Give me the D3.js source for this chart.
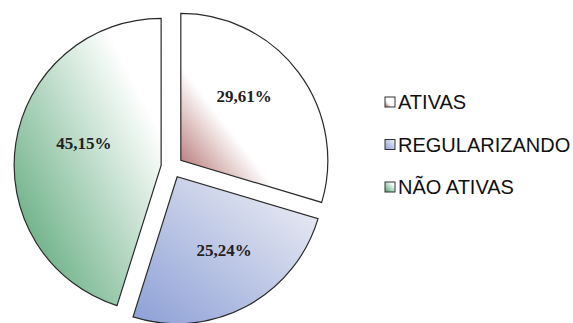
<!DOCTYPE html>
<html>
<head>
<meta charset="utf-8">
<script src="https://cdn.jsdelivr.net/npm/d3@7"></script>
<style>
  html, body { margin: 0; padding: 0; background: #fff; }
  svg { display: block; }
</style>
</head>
<body>
<svg id="chart" width="573" height="323"></svg>
<script>
const categories = ["ATIVAS", "REGULARIZANDO", "NÃO ATIVAS"];
const values = [29.61, 25.24, 45.15];
const labels = ["29,61%", "25,24%", "45,15%"];
const baseColors = ["#a04c4c", "#8c9fd6", "#4c9f6c"];
const whiteStops = [0.36, 1.0, 0.8];

const svg = d3.select("#chart");
const cx = 172, cy = 167, r = 147, explode = 11;
// small label nudges (pixels) to follow the original placement
const labelNudge = [[-5, -13], [7, -2], [7, -9]];

const defs = svg.append("defs");
categories.forEach((c, i) => {
  const g = defs.append("linearGradient")
    .attr("id", "grad" + i)
    .attr("x1", 0).attr("y1", 1).attr("x2", 1).attr("y2", 0);
  g.append("stop").attr("offset", 0).attr("stop-color", baseColors[i]);
  g.append("stop").attr("offset", whiteStops[i]).attr("stop-color", i === 1 ? "#f3f3f6" : "#ffffff");
  g.append("stop").attr("offset", 1).attr("stop-color", i === 1 ? "#f3f3f6" : "#ffffff");
});

const pie = d3.pie().sort(null).value(d => d)(values);
const arc = d3.arc().innerRadius(0).outerRadius(r);
const labelArc = d3.arc().innerRadius(r * 0.58 * 2).outerRadius(0);

const root = svg.append("g").attr("transform", `translate(${cx},${cy})`);

const slices = root.selectAll("g.slice").data(pie).enter().append("g")
  .attr("class", "slice")
  .attr("transform", d => {
    const a = (d.startAngle + d.endAngle) / 2;
    return `translate(${explode * Math.sin(a)},${-explode * Math.cos(a)})`;
  });

slices.append("path")
  .attr("d", arc)
  .attr("fill", (d, i) => `url(#grad${i})`)
  .attr("stroke", "#2a2a2a")
  .attr("stroke-width", 1.2)
  .attr("stroke-linejoin", "miter");

slices.append("text")
  .attr("transform", (d, i) => {
    const p = labelArc.centroid(d);
    return `translate(${p[0] + labelNudge[i][0]},${p[1] + labelNudge[i][1]})`;
  })
  .attr("text-anchor", "middle")
  .attr("dy", "0.35em")
  .attr("font-family", "'Liberation Serif', 'Times New Roman', serif")
  .attr("font-weight", "bold")
  .attr("font-size", 17)
  .attr("fill", "#222")
  .text((d, i) => labels[i]);

// Legend
const legend = svg.append("g").attr("transform", "translate(385,102)");
const lg = legend.selectAll("g").data(categories).enter().append("g")
  .attr("transform", (d, i) => `translate(0,${i * 42.5})`);
lg.append("rect")
  .attr("x", 0).attr("y", -5)
  .attr("width", 10).attr("height", 10)
  .attr("fill", (d, i) => `url(#grad${i})`)
  .attr("stroke", "#333").attr("stroke-width", 1);
lg.append("text")
  .attr("x", 13).attr("y", 0).attr("dy", "0.36em")
  .attr("font-family", "'Liberation Sans', Arial, sans-serif")
  .attr("font-size", 20)
  .attr("fill", "#111")
  .text(d => d);
</script>
</body>
</html>
